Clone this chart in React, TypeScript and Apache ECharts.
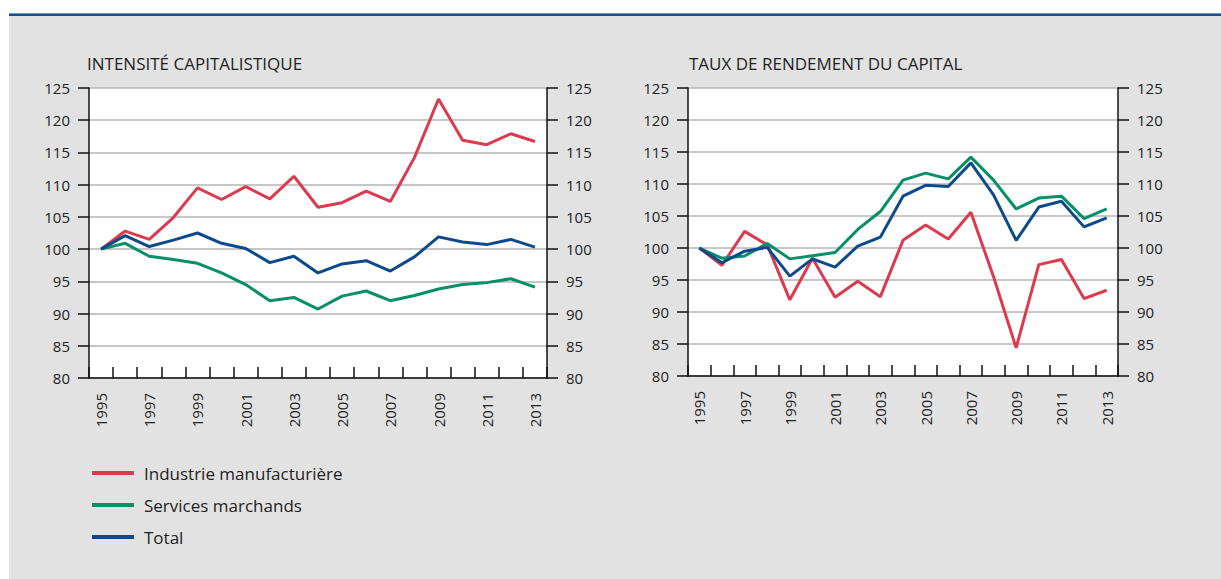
import React, { useEffect, useRef } from "react";
import * as echarts from "echarts";

const years = ["1995","1996","1997","1998","1999","2000","2001","2002","2003","2004","2005","2006","2007","2008","2009","2010","2011","2012","2013"];

const intensiteIndustrie = [100, 102.8, 101.5, 104.9, 109.5, 107.7, 109.7, 107.8, 111.3, 106.5, 107.2, 109.0, 107.4, 114.2, 123.3, 116.9, 116.2, 117.9, 116.7];
const intensiteServices = [100, 100.9, 98.9, 98.4, 97.8, 96.3, 94.5, 92.0, 92.5, 90.7, 92.7, 93.5, 92.0, 92.8, 93.8, 94.5, 94.8, 95.4, 94.1];
const intensiteTotal = [100, 102.1, 100.4, 101.4, 102.5, 100.9, 100.1, 97.9, 98.9, 96.3, 97.7, 98.2, 96.6, 98.8, 101.9, 101.1, 100.7, 101.5, 100.3];

const rendementIndustrie = [100, 97.3, 102.6, 100.5, 91.9, 98.4, 92.3, 94.8, 92.4, 101.2, 103.6, 101.4, 105.6, 95.5, 84.4, 97.4, 98.2, 92.1, 93.4];
const rendementServices = [100, 98.4, 98.75, 100.7, 98.3, 98.8, 99.3, 102.9, 105.7, 110.6, 111.7, 110.8, 114.2, 110.6, 106.1, 107.8, 108.1, 104.6, 106.1];
const rendementTotal = [100, 97.7, 99.5, 100.1, 95.6, 98.3, 97.0, 100.3, 101.7, 108.1, 109.8, 109.6, 113.3, 108.3, 101.2, 106.4, 107.3, 103.3, 104.7];

const titles = ["INTENSITÉ CAPITALISTIQUE", "TAUX DE RENDEMENT DU CAPITAL"];
const seriesNames = ["Industrie manufacturière", "Services marchands", "Total"];
const colors = ["#dc3a4e", "#078f68", "#0c4a8c"];

const FONT = "Open Sans";
const TXT = "#222";

export default function App() {
  const ref = useRef<HTMLDivElement>(null);
  useEffect(() => {
    if (!ref.current) return;
    const chart = echarts.init(ref.current, null, { renderer: "svg" });

    const grids = [
      { left: 89, top: 88, width: 458, height: 290 },
      { left: 688, top: 88, width: 430, height: 288 },
    ];

    const xAxis = grids.map((_, i) => ({
      type: "category",
      gridIndex: i,
      data: years,
      boundaryGap: true,
      axisLine: { show: true, lineStyle: { color: "#111", width: 1.5 } },
      axisTick: { show: true, inside: true, length: 11, interval: 0, lineStyle: { color: "#111", width: 1.5 } },
      axisLabel: { interval: 1, rotate: 90, margin: 15, fontSize: 15, color: TXT, fontFamily: FONT },
      splitLine: { show: false },
    }));

    const yAxis: any[] = [];
    grids.forEach((_, i) => {
      ["left", "right"].forEach((pos) => {
        yAxis.push({
          type: "value",
          gridIndex: i,
          position: pos,
          min: 80,
          max: 125,
          interval: 5,
          axisLine: { show: true, lineStyle: { color: "#111", width: 1.5 } },
          axisTick: { show: true, inside: false, length: 11, lineStyle: { color: "#111", width: 1.5 } },
          axisLabel: { margin: 19, fontSize: 15, color: TXT, fontFamily: FONT },
          splitLine: { show: pos === "left", lineStyle: { color: "#b4b4b4", width: 1.5 } },
        });
      });
    });

    const data = [
      [intensiteIndustrie, intensiteServices, intensiteTotal],
      [rendementIndustrie, rendementServices, rendementTotal],
    ];

    const series: any[] = [];
    data.forEach((group, gi) => {
      group.forEach((vals, si) => {
        series.push({
          type: "line",
          name: seriesNames[si],
          xAxisIndex: gi,
          yAxisIndex: gi * 2,
          data: vals,
          symbol: "none",
          lineStyle: { color: colors[si], width: 3 },
          itemStyle: { color: colors[si] },
          z: si === 2 ? 3 : 2,
        });
      });
    });

    chart.setOption({
      animation: false,
      backgroundColor: "#e2e2e2",
      title: [
        { text: titles[0], left: 87, top: 55, padding: 0, textStyle: { fontSize: 17, fontWeight: "normal", color: TXT, fontFamily: FONT } },
        { text: titles[1], left: 689, top: 55, padding: 0, textStyle: { fontSize: 17, fontWeight: "normal", color: TXT, fontFamily: FONT } },
      ],
      legend: {
        orient: "vertical",
        left: 87,
        top: 458,
        itemWidth: 42,
        itemHeight: 4,
        itemGap: 12,
        icon: "rect",
        data: seriesNames,
        textStyle: { fontSize: 17, color: TXT, fontFamily: FONT, lineHeight: 20, padding: [0, 0, 0, 5] },
        selectedMode: false,
      },
      grid: grids.map((g) => ({ ...g, show: true, backgroundColor: "#ffffff", borderWidth: 0, containLabel: false })),
      xAxis,
      yAxis,
      series,
      graphic: [
        { type: "rect", shape: { x: 0, y: 0, width: 1221, height: 16 }, style: { fill: "#ffffff" }, z: 100, silent: true },
        { type: "rect", shape: { x: 0, y: 0, width: 9, height: 579 }, style: { fill: "#ffffff" }, z: 100, silent: true },
        { type: "rect", shape: { x: 9, y: 13, width: 1212, height: 1 }, style: { fill: "#6f9bcb" }, z: 101, silent: true },
        { type: "rect", shape: { x: 9, y: 14, width: 1212, height: 2 }, style: { fill: "#17508f" }, z: 101, silent: true },
      ],
    });

    return () => chart.dispose();
  }, []);

  return <div ref={ref} style={{ position: "fixed", left: 0, top: 0, width: 1221, height: 579 }} />;
}
